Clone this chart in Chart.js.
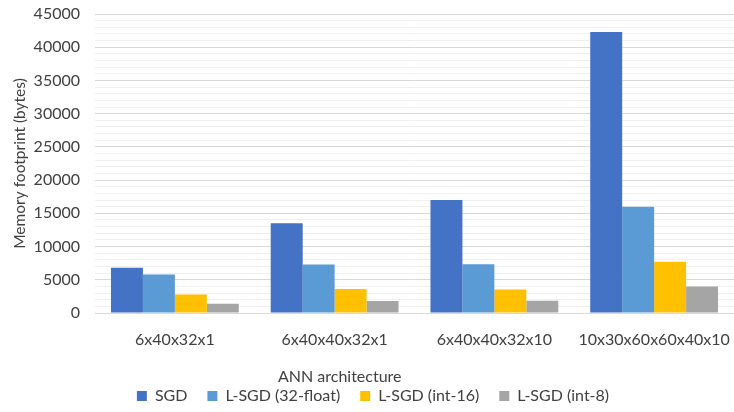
<!DOCTYPE html>
<html>
<head>
<meta charset="utf-8">
<script src="https://cdn.jsdelivr.net/npm/chart.js@4/dist/chart.umd.min.js"></script>
<style>
  html, body { margin: 0; padding: 0; background: #ffffff; }
  #wrap { width: 734px; height: 412px; }
</style>
</head>
<body>
<div id="wrap"><canvas id="c" width="734" height="412"></canvas></div>
<script>
// Network architectures compared
const architectures = ['6x40x32x1', '6x40x40x32x1', '6x40x40x32x10', '10x30x60x60x40x10'];

// Memory footprint in bytes for each training method
const sgd        = [6800, 13500, 17000, 42300];
const lsgdFloat  = [5800, 7300, 7350, 16000];
const lsgdInt16  = [2800, 3600, 3550, 7700];
const lsgdInt8   = [1400, 1800, 1850, 4000];

const seriesNames  = ['SGD', 'L-SGD (32-float)', 'L-SGD (int-16)', 'L-SGD (int-8)'];
const seriesColors = ['#4472C4', '#5B9BD5', '#FFC000', '#A5A5A5'];

const xAxisTitle = 'ANN architecture';
const yAxisTitle = 'Memory footprint (bytes)';

const FONT = "Lato, 'Open Sans', sans-serif";
const TXT = '#404040';

const seriesData = [sgd, lsgdFloat, lsgdInt16, lsgdInt8];

// Horizontal axis title, placed a little left of the plot centre
const axisTitlePlugin = {
  id: 'axisTitle',
  afterDraw(chart) {
    const { ctx, chartArea } = chart;
    ctx.save();
    ctx.font = `16px ${FONT}`;
    ctx.fillStyle = TXT;
    ctx.textAlign = 'center';
    ctx.textBaseline = 'middle';
    const x = chartArea.left + (chartArea.right - chartArea.left) * 0.383;
    ctx.fillText(xAxisTitle, x, chartArea.bottom + 64);
    ctx.restore();
  }
};

new Chart(document.getElementById('c'), {
  type: 'bar',
  data: {
    labels: architectures,
    datasets: seriesData.map((d, i) => ({
      label: seriesNames[i],
      data: d,
      backgroundColor: seriesColors[i],
      borderWidth: 0,
      categoryPercentage: 0.8,
      barPercentage: 1.0
    }))
  },
  plugins: [axisTitlePlugin],
  options: {
    responsive: false,
    animation: false,
    layout: { padding: { left: 8, right: -4, top: 14, bottom: 4 } },
    plugins: {
      legend: {
        position: 'bottom',
        maxHeight: 40,
        labels: {
          boxWidth: 10,
          boxHeight: 10,
          padding: 20,
          color: TXT,
          font: { family: FONT, size: 16 }
        }
      },
      tooltip: { enabled: false }
    },
    scales: {
      x: {
        grid: { display: false, drawTicks: false },
        border: { display: true, color: '#d9d9d9', width: 1 },
        ticks: { color: TXT, font: { family: FONT, size: 16 }, padding: 17 },
        afterFit: s => { s.height = 55; s.paddingLeft = 0; s.paddingRight = 0; }
      },
      y: {
        min: 0,
        max: 45000,
        border: { display: false },
        grid: {
          drawTicks: false,
          color: ctx => (ctx.tick && ctx.tick.value % 5000 === 0) ? '#d9d9d9' : '#f0f0f0',
          lineWidth: 1
        },
        ticks: {
          stepSize: 1000,
          autoSkip: false,
          color: TXT,
          padding: 15,
          font: { family: FONT, size: 16 },
          callback: v => (v % 5000 === 0) ? String(v) : ''
        },
        title: {
          display: true,
          text: yAxisTitle,
          color: TXT,
          font: { family: FONT, size: 15.5 },
          padding: { top: 3, bottom: 0 }
        },
        afterFit: s => { s.width = 87; s.paddingTop = 0; s.paddingBottom = 0; }
      }
    }
  }
});
</script>
</body>
</html>
